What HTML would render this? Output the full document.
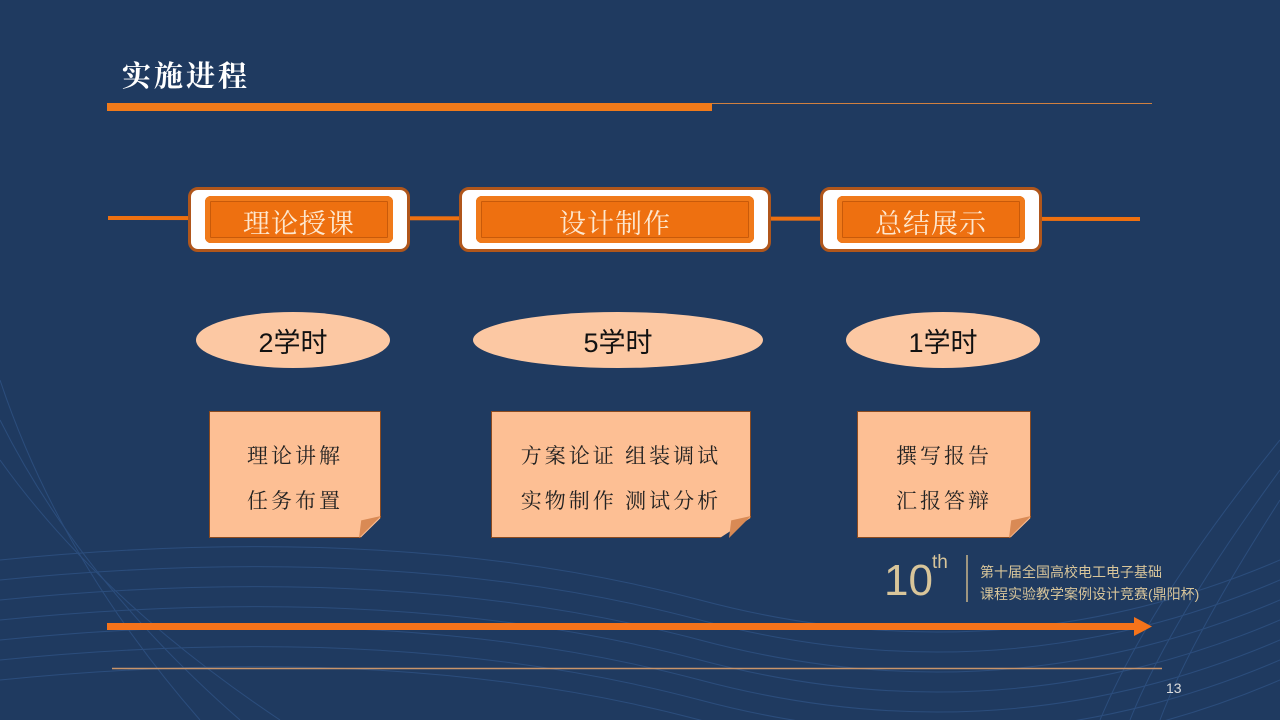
<!DOCTYPE html>
<html><head><meta charset="utf-8"><style>
*{margin:0;padding:0;box-sizing:border-box}
body{width:1280px;height:720px;background:#1f3a60;position:relative;overflow:hidden;font-family:"Liberation Sans","Noto Sans CJK SC",sans-serif}
.a{position:absolute}
.box{position:absolute;background:#fff;border:3px solid #b0561b;border-radius:10px}
.in{position:absolute;left:14px;right:14px;top:6px;bottom:6px;background:#ee7010;border-radius:6px;box-shadow:inset 0 0 0 5px #f07a1a, inset 0 0 0 6px #c85a0a;color:#fde8d0;font-size:27px;font-family:"Noto Serif CJK SC",serif;display:flex;align-items:center;justify-content:center;letter-spacing:1px;padding-top:3px}
.el{position:absolute;background:#fcc8a3;border-radius:50%;display:flex;align-items:center;justify-content:center;font-size:27px;color:#111}
.note{position:absolute;background:#fdbf94;border:1px solid #8b4a1f;clip-path:polygon(0 0,100% 0,100% 84%,88% 100%,0 100%);display:flex;flex-direction:column;align-items:center;justify-content:center;font-family:"Noto Serif CJK SC",serif;font-size:21px;color:#222;line-height:45px;letter-spacing:3px;padding-top:6px}
.fold{position:absolute;width:22px;height:22px;background:#d98a55;clip-path:polygon(100% 0,0 100%,10% 20%)}
</style></head><body>
<svg class="a" style="left:0;top:0" width="1280" height="720">
<g fill="none" stroke="#3e6aa8" stroke-width="1" opacity="0.4">
<path d="M0 560 Q400 520 700 600 T1280 560"/><path d="M0 580 Q400 540 700 620 T1280 580"/><path d="M0 600 Q400 560 700 640 T1280 600"/><path d="M0 620 Q400 580 700 660 T1280 620"/><path d="M0 640 Q400 600 700 680 T1280 640"/><path d="M0 660 Q400 620 700 700 T1280 660"/><path d="M0 680 Q400 640 700 720 T1280 680"/>
<path d="M1280 440 Q1150 600 1100 720"/><path d="M1280 470 Q1170 620 1130 720"/><path d="M1280 500 Q1190 640 1160 720"/>
<path d="M0 380 Q60 560 200 720"/><path d="M0 420 Q80 580 240 720"/><path d="M0 460 Q100 600 280 720"/>
</g>
<rect x="107" y="103" width="605" height="8" fill="#f07a1a"/>
<line x1="712" y1="103.5" x2="1152" y2="103.5" stroke="#d08040" stroke-width="1"/>
<line x1="108" y1="218" x2="1140" y2="219" stroke="#ee7010" stroke-width="4"/>
<rect x="107" y="623" width="1030" height="7" fill="#f5731a"/>
<polygon points="1134,617 1152,626.5 1134,636" fill="#f5731a"/>
<line x1="112" y1="668.5" x2="1162" y2="668.5" stroke="#c8946a" stroke-width="1.5"/>
<line x1="967" y1="555" x2="967" y2="602" stroke="#c8b48a" stroke-width="1.5"/>
</svg>
<div class="a" style="left:122px;top:54px;color:#fff;font-size:29px;font-family:'Noto Serif CJK SC',serif;letter-spacing:3px;font-weight:bold">实施进程</div>
<div class="box" style="left:188px;top:187px;width:222px;height:65px"><div class="in">理论授课</div></div>
<div class="box" style="left:459px;top:187px;width:312px;height:65px"><div class="in">设计制作</div></div>
<div class="box" style="left:820px;top:187px;width:222px;height:65px"><div class="in">总结展示</div></div>
<div class="el" style="left:196px;top:312px;width:194px;height:56px">2学时</div>
<div class="el" style="left:473px;top:312px;width:290px;height:56px">5学时</div>
<div class="el" style="left:846px;top:312px;width:194px;height:56px">1学时</div>
<div class="note" style="left:209px;top:411px;width:172px;height:127px"><div>理论讲解</div><div>任务布置</div></div>
<div class="fold" style="left:359px;top:516px"></div>
<div class="note" style="left:491px;top:411px;width:260px;height:127px"><div>方案论证&nbsp;组装调试</div><div>实物制作&nbsp;测试分析</div></div>
<div class="fold" style="left:729px;top:516px"></div>
<div class="note" style="left:857px;top:411px;width:174px;height:127px"><div>撰写报告</div><div>汇报答辩</div></div>
<div class="fold" style="left:1009px;top:516px"></div>
<div class="a" style="left:884px;top:556px;color:#d8c59a;font-size:44px;font-weight:300">10</div>
<div class="a" style="left:932px;top:552px;color:#d8c59a;font-size:19px">th</div>
<div class="a" style="left:980px;top:561px;color:#d8c59a;font-size:14px;line-height:22px">第十届全国高校电工电子基础<br>课程实验教学案例设计竞赛(鼎阳杯)</div>
<div class="a" style="left:1166px;top:680px;color:#ddd;font-size:14px">13</div>
</body></html>
